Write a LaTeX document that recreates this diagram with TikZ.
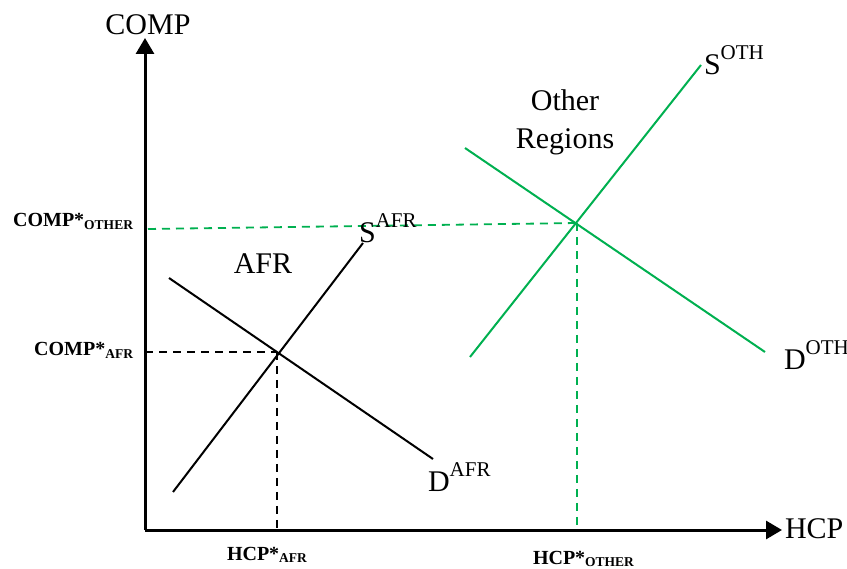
\documentclass[tikz,border=0pt]{standalone}
\usepackage{fontspec}
\setmainfont{Liberation Serif}
\usetikzlibrary{arrows.meta}
\definecolor{oth}{RGB}{0,176,80}
\newcommand{\bigtxt}{\fontsize{30}{36}\selectfont}
\newcommand{\supr}[1]{\raisebox{0.5em}{\fontsize{21}{21}\selectfont #1}}
\newcommand{\lbl}{\fontsize{20}{22}\selectfont\bfseries}
\newcommand{\subl}[1]{\raisebox{-0.12em}{\fontsize{13.5}{14}\selectfont #1}}
\begin{document}
\begin{tikzpicture}[x=1pt,y=-1pt,
  axis/.style={line width=3pt,-{Triangle[length=16pt,width=18pt]}},
  curve/.style={line width=2pt},
  guide/.style={line width=1.8pt,dash pattern=on 8pt off 6pt},
  txt/.style={inner sep=0pt,outer sep=0pt}]
\useasboundingbox (0,0) rectangle (847,569);
% coordinates
\coordinate (O) at (145,530);
\coordinate (ytip) at (145,38);
\coordinate (xtip) at (782,530);
\coordinate (sa1) at (173,492);
\coordinate (sa2) at (363,243);
\coordinate (da1) at (169,278);
\coordinate (da2) at (433,459);
\coordinate (ea) at (277,352);
\coordinate (ea-y) at (145,352);
\coordinate (ea-x) at (277,530);
\coordinate (so1) at (470,357);
\coordinate (so2) at (701,65);
\coordinate (do1) at (465,148);
\coordinate (do2) at (765,352);
\coordinate (eo) at (577,223);
\coordinate (eo-y) at (148,229);
\coordinate (eo-x) at (577,530);
% guides
\draw[guide] (ea-y) -- (ea);
\draw[guide] (ea) -- (ea-x);
\draw[guide,oth] (eo-y) -- (eo);
\draw[guide,oth] (eo) -- (eo-x);
% curves
\draw[curve] (sa1) -- (sa2);
\draw[curve] (da1) -- (da2);
\draw[curve,oth] (so1) -- (so2);
\draw[curve,oth] (do1) -- (do2);
% axes
\draw[axis] (O) -- (ytip);
\draw[axis] (O) -- (xtip);
% labels
\node[txt,anchor=base] (comp) at (148,35) {\bigtxt COMP};
\node[txt,anchor=base west] (hcp) at (785,539) {\bigtxt HCP};
\node[txt,anchor=base,align=center,font=\fontsize{30}{38}\selectfont] (other) at (565,149) {Other\\Regions};
\node[txt,anchor=base] (afr) at (263,274) {\bigtxt AFR};
\node[txt,anchor=base west] (sAFR) at (359,243) {\bigtxt S\supr{AFR}};
\node[txt,anchor=base west] (sOTH) at (704,75) {\bigtxt S\supr{OTH}};
\node[txt,anchor=base west] (dAFR) at (428,492) {\bigtxt D\supr{AFR}};
\node[txt,anchor=base west] (dOTH) at (784,370) {\bigtxt D\supr{OTH}};
\node[txt,anchor=base east] (compo) at (133,227) {\lbl COMP*\subl{OTHER}};
\node[txt,anchor=base east] (compa) at (133,356) {\lbl COMP*\subl{AFR}};
\node[txt,anchor=base west] (hcpa) at (227,560) {\lbl HCP*\subl{AFR}};
\node[txt,anchor=base west] (hcpo) at (533,564) {\lbl HCP*\subl{OTHER}};
\end{tikzpicture}
\end{document}
